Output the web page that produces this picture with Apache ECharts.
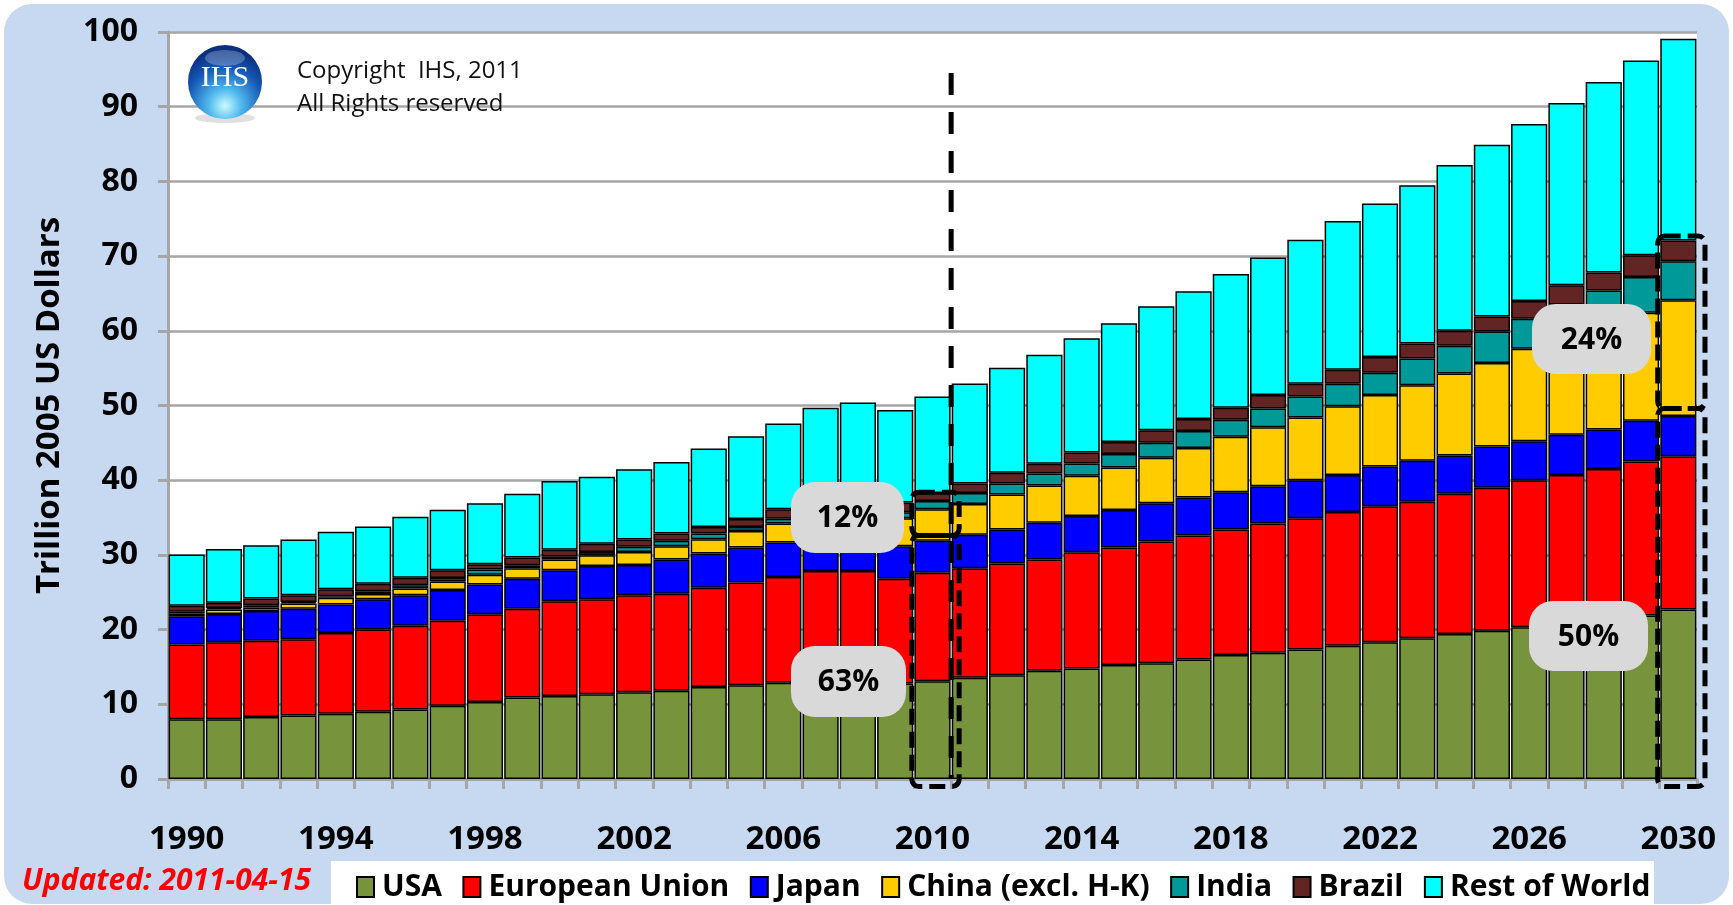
<!DOCTYPE html>
<html>
<head>
<meta charset="utf-8">
<title>World GDP</title>
<script src="https://cdn.jsdelivr.net/npm/echarts@6/dist/echarts.min.js"></script>
<style>
body { margin: 0; background: #fff; }
#bg { position: absolute; left: 4px; top: 4px; width: 1725px; height: 900px; border-radius: 28px; background: #c6d9f1; }
#main { position: absolute; left: 0; top: 0; width: 1733px; height: 905px; }
</style>
</head>
<body>
<div id="bg"></div>
<div id="main"></div>
<script>
var years = ['1990','1991','1992','1993','1994','1995','1996','1997','1998','1999',
  '2000','2001','2002','2003','2004','2005','2006','2007','2008','2009',
  '2010','2011','2012','2013','2014','2015','2016','2017','2018','2019',
  '2020','2021','2022','2023','2024','2025','2026','2027','2028','2029','2030'];

var usa = [8.0, 8.0, 8.3, 8.5, 8.75, 9.0, 9.3, 9.8, 10.3, 10.9,
  11.1, 11.35, 11.6, 11.8, 12.3, 12.55, 12.9, 13.1, 13.2, 12.8,
  13.1, 13.55, 13.9, 14.5, 14.8, 15.25, 15.5, 16.0, 16.6, 16.9,
  17.35, 17.85, 18.3, 18.85, 19.4, 19.85, 20.3, 20.8, 21.4, 21.9, 22.7];
var eu = [10.0, 10.3, 10.2, 10.2, 10.8, 11.0, 11.2, 11.4, 11.75, 11.9,
  12.7, 12.7, 13.0, 13.0, 13.3, 13.75, 14.15, 14.75, 14.65, 14.0,
  14.5, 14.65, 14.95, 14.9, 15.55, 15.75, 16.3, 16.6, 16.8, 17.3,
  17.55, 17.9, 18.2, 18.25, 18.8, 19.15, 19.7, 19.9, 20.1, 20.6, 20.5];
var japan = [3.8, 3.8, 4.0, 4.1, 3.8, 4.05, 4.1, 4.1, 4.0, 4.0,
  4.15, 4.45, 4.05, 4.6, 4.6, 4.7, 4.6, 4.55, 4.35, 4.35,
  4.3, 4.5, 4.55, 4.9, 4.85, 5.0, 5.1, 5.1, 5.0, 5.0,
  5.1, 4.95, 5.35, 5.5, 5.1, 5.5, 5.2, 5.4, 5.3, 5.45, 5.4];
var china = [0.35, 0.6, 0.45, 0.7, 0.9, 0.7, 0.9, 1.15, 1.3, 1.4,
  1.45, 1.45, 1.75, 1.75, 1.9, 2.2, 2.55, 2.6, 3.2, 3.75,
  4.2, 4.1, 4.7, 5.0, 5.4, 5.7, 6.1, 6.6, 7.4, 7.9,
  8.4, 9.2, 9.55, 10.1, 11.0, 11.2, 12.4, 13.5, 14.2, 14.45, 15.5];
var india = [0.25, 0.2, 0.3, 0.2, 0.22, 0.4, 0.45, 0.45, 0.7, 0.4,
  0.4, 0.45, 0.7, 0.75, 0.75, 0.55, 0.65, 0.7, 0.7, 0.8,
  1.1, 1.5, 1.45, 1.6, 1.65, 1.8, 2.0, 2.3, 2.3, 2.5,
  2.8, 3.0, 3.0, 3.6, 3.7, 4.2, 4.0, 3.9, 4.4, 4.8, 5.2];
var brazil = [0.8, 0.7, 0.9, 0.9, 0.93, 1.0, 1.0, 1.05, 0.7, 1.05,
  0.9, 1.1, 0.95, 0.95, 0.9, 1.05, 1.25, 1.2, 1.2, 1.3,
  1.1, 1.25, 1.45, 1.3, 1.45, 1.6, 1.7, 1.6, 1.6, 1.8,
  1.7, 1.9, 2.1, 2.0, 2.0, 2.0, 2.4, 2.6, 2.4, 2.9, 2.8];
var restOfWorld = [6.85, 7.2, 7.15, 7.45, 7.7, 7.65, 8.15, 8.1, 8.15, 8.55,
  9.2, 8.95, 9.4, 9.6, 10.5, 11.1, 11.5, 12.8, 13.1, 12.4,
  12.9, 13.4, 14.05, 14.6, 15.3, 15.9, 16.6, 17.1, 17.9, 18.4,
  19.3, 19.9, 20.55, 21.2, 22.2, 23.0, 23.7, 24.4, 25.5, 26.1, 27.0];

var seriesNames = ['USA', 'European Union', 'Japan', 'China (excl. H-K)', 'India', 'Brazil', 'Rest of World'];
var seriesColors = ['#77933c', '#ff0000', '#0000ff', '#ffcc00', '#009999', '#632523', '#00ffff'];

// dashed highlight boxes: year, lower value, upper value
var boxYears = ['2010', '2010', '2030', '2030'];
var boxLow = [-1, 32.6, -1, 49.6];
var boxHigh = [32.6, 38.4, 49.6, 72.7];
// vertical dashed divider after 2010
var dividerYear = '2010';
var dividerTop = 94.5;
var shareLabels = ['12%', '63%', '24%', '50%'];

var font = '"Open Sans", "Noto Sans", sans-serif';

var myChart = echarts.init(document.getElementById('main'));

var allData = [usa, eu, japan, china, india, brazil, restOfWorld];
var series = [];
for (var i = 0; i < seriesNames.length; i++) {
  series.push({
    name: seriesNames[i],
    type: 'bar',
    stack: 'gdp',
    barCategoryGap: '3%',
    data: allData[i],
    itemStyle: { color: seriesColors[i], borderColor: '#000', borderWidth: 1.5 }
  });
}

var boxData = [];
for (var b = 0; b < boxYears.length; b++) {
  boxData.push([boxYears[b], boxLow[b], boxHigh[b]]);
}

series.push({
  type: 'custom',
  name: 'boxes',
  z: 10,
  data: boxData,
  renderItem: function (params, api) {
    var lo = api.coord([api.value(0), api.value(1)]);
    var hi = api.coord([api.value(0), api.value(2)]);
    var bw = api.size([1, 0])[0];
    return {
      type: 'rect',
      shape: { x: lo[0] - bw / 2 - 2, y: hi[1], width: bw + 10, height: lo[1] - hi[1], r: 7 },
      style: { fill: null, stroke: '#000', lineWidth: 5, lineDash: [16, 7] }
    };
  }
});

series.push({
  type: 'custom',
  name: 'divider',
  z: 10,
  data: [[dividerYear, dividerTop, 0]],
  renderItem: function (params, api) {
    var top = api.coord([api.value(0), api.value(1)]);
    var bottom = api.coord([api.value(0), api.value(2)]);
    var bw = api.size([1, 0])[0];
    var x = top[0] + bw / 2;
    return {
      type: 'line',
      shape: { x1: x, y1: top[1], x2: x, y2: bottom[1] },
      style: { stroke: '#000', lineWidth: 5, lineDash: [22, 17] }
    };
  }
});

// share label boxes (pixel placement)
var labelBoxes = [
  { x: 791, y: 482, w: 113, h: 71 },
  { x: 791, y: 646, w: 115, h: 71 },
  { x: 1532, y: 304, w: 119, h: 70 },
  { x: 1529, y: 601, w: 119, h: 70 }
];
var graphics = [
  { type: 'rect', z: 0, shape: { x: 331, y: 861, width: 1323, height: 50 }, style: { fill: '#fff' } },
  {
    type: 'text', z: 5, x: 22, y: 881,
    style: { text: 'Updated: 2011-04-15', fill: '#ff0000', fontSize: 30, fontWeight: 'bold', fontStyle: 'italic', fontFamily: font, verticalAlign: 'middle' }
  },
  { type: 'ellipse', z: 20, shape: { cx: 225, cy: 118, rx: 30, ry: 5 }, style: { fill: 'rgba(0,0,0,0.12)' } },
  {
    type: 'circle', z: 20, shape: { cx: 225, cy: 82, r: 37 },
    style: {
      fill: new echarts.graphic.RadialGradient(0.5, 0.82, 0.75, [
        { offset: 0, color: '#c9fbff' },
        { offset: 0.3, color: '#4fb8ec' },
        { offset: 0.7, color: '#1557b5' },
        { offset: 1, color: '#0b2f7e' }
      ])
    }
  },
  { type: 'ellipse', z: 21, shape: { cx: 225, cy: 58, rx: 20, ry: 8 }, style: { fill: 'rgba(255,255,255,0.25)' } },
  {
    type: 'text', z: 22, x: 225, y: 78,
    style: { text: 'IHS', fill: '#fff', fontSize: 30, fontFamily: '"Liberation Serif", serif', align: 'center', verticalAlign: 'middle' }
  },
  {
    type: 'text', z: 20, x: 297, y: 71,
    style: { text: 'Copyright  IHS, 2011', fill: '#111', fontSize: 24, fontFamily: font, verticalAlign: 'middle' }
  },
  {
    type: 'text', z: 20, x: 297, y: 104,
    style: { text: 'All Rights reserved', fill: '#111', fontSize: 24, fontFamily: font, verticalAlign: 'middle' }
  }
];
for (var k = 0; k < labelBoxes.length; k++) {
  var lb = labelBoxes[k];
  graphics.push({
    type: 'rect', z: 50,
    shape: { x: lb.x, y: lb.y, width: lb.w, height: lb.h, r: 24 },
    style: { fill: '#d9d9d9' }
  });
  graphics.push({
    type: 'text', z: 51, x: lb.x + lb.w / 2, y: lb.y + lb.h / 2 + 1,
    style: { text: shareLabels[k], fill: '#000', fontSize: 30, fontWeight: 'bold', fontFamily: font, align: 'center', verticalAlign: 'middle' }
  });
}

var option = {
  animation: false,
  textStyle: { fontFamily: font },
  grid: { left: 168, right: 36, top: 32, bottom: 126, show: true, backgroundColor: '#fff', borderWidth: 0 },
  legend: {
    data: seriesNames,
    left: 351,
    top: 867,
    icon: 'rect',
    itemWidth: 17,
    itemHeight: 20,
    itemGap: 20.5,
    textStyle: { fontSize: 30, fontWeight: 'bold', color: '#000', fontFamily: font, padding: [0, 0, 0, 3] }
  },
  xAxis: {
    type: 'category',
    data: years,
    axisLine: { lineStyle: { color: '#a6a6a6', width: 3 } },
    axisTick: { show: true, interval: 0, length: 10, lineStyle: { color: '#a6a6a6', width: 3 } },
    axisLabel: { interval: 3, margin: 44, fontSize: 33, fontWeight: 'bold', color: '#000', fontFamily: font }
  },
  yAxis: {
    type: 'value',
    min: 0,
    max: 100,
    interval: 10,
    name: 'Trillion 2005 US Dollars',
    nameLocation: 'middle',
    nameGap: 102,
    nameTextStyle: { fontSize: 33, fontWeight: 'bold', color: '#000', fontFamily: font },
    axisLine: { show: true, lineStyle: { color: '#a6a6a6', width: 3 } },
    axisTick: { show: true, length: 10, lineStyle: { color: '#a6a6a6', width: 3 } },
    splitLine: { lineStyle: { color: '#a6a6a6', width: 2.5 } },
    axisLabel: { margin: 30, fontSize: 32, fontWeight: 'bold', color: '#000', fontFamily: font }
  },
  graphic: graphics,
  series: series
};
myChart.setOption(option);
</script>
</body>
</html>
